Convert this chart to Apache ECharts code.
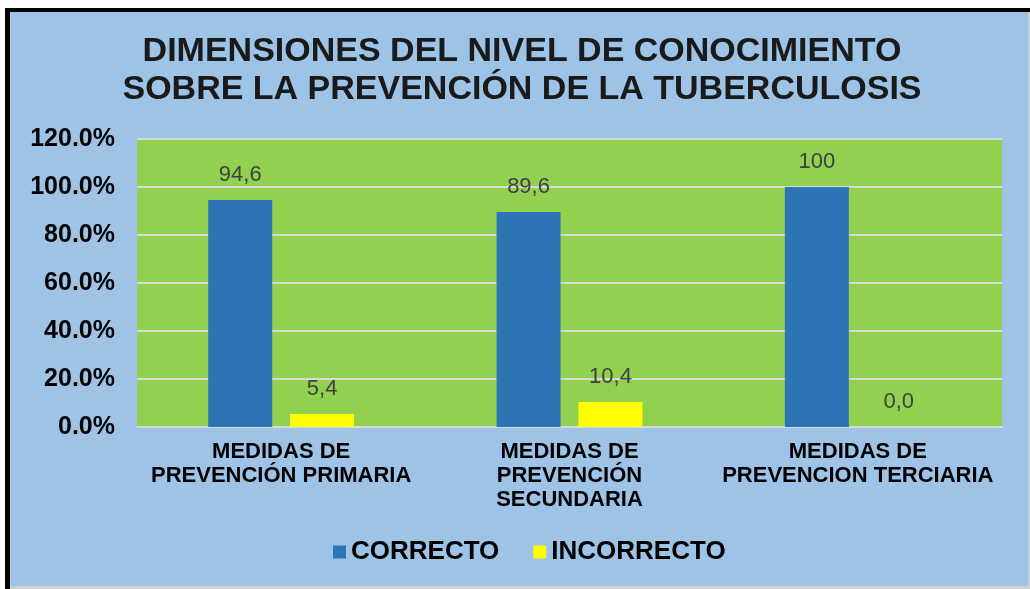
<!DOCTYPE html>
<html>
<head>
<meta charset="utf-8" />
<title>Dimensiones del nivel de conocimiento</title>
<script src="https://cdn.jsdelivr.net/npm/echarts@6/dist/echarts.min.js"></script>
<style>
  html,
  body {
    margin: 0;
    padding: 0;
    background: #ffffff;
  }

  #chart {
    width: 1030px;
    height: 589px;
  }
</style>
</head>
<body>
<div id="chart"></div>
<script>
const categories = [
  "MEDIDAS DE\nPREVENCIÓN PRIMARIA",
  "MEDIDAS DE\nPREVENCIÓN\nSECUNDARIA",
  "MEDIDAS DE\nPREVENCION TERCIARIA",
];

const seriesNames = [
  "CORRECTO",
  "INCORRECTO",
];

const correcto = [94.6, 89.6, 100];
const incorrecto = [5.4, 10.4, 0];

const correctoLabels = ["94,6", "89,6", "100"];
const incorrectoLabels = ["5,4", "10,4", "0,0"];

const yMin = 0;
const yMax = 120;
const yStep = 20;


function barSeries(
  name,
  values,
  labels,
  color,
) {
  return {
    name,
    type: "bar",
    barWidth: 64,
    barGap: "28%",
    data: values,
    itemStyle: {
      color,
    },
    label: {
      show: true,
      position: "top",
      distance: 14,
      color: "#404040",
      fontFamily: "Liberation Sans",
      fontSize: 22,
      formatter: (params) => labels[params.dataIndex],
    },
  };
}


function frameGraphics() {
  // white margin, black frame on top/left, thin grey edges
  return [
    { type: "rect", shape: { x: 0, y: 0, width: 1030, height: 8 }, style: { fill: "#ffffff" } },
    { type: "rect", shape: { x: 0, y: 0, width: 5, height: 589 }, style: { fill: "#ffffff" } },
    { type: "rect", shape: { x: 5, y: 8, width: 1025, height: 4 }, style: { fill: "#000000" } },
    { type: "rect", shape: { x: 5, y: 8, width: 5, height: 581 }, style: { fill: "#000000" } },
    { type: "rect", shape: { x: 10, y: 12, width: 1, height: 577 }, style: { fill: "#c8c8c8" } },
    { type: "rect", shape: { x: 10, y: 586, width: 1020, height: 3 }, style: { fill: "#d0d0d0" } },
    { type: "rect", shape: { x: 1028, y: 12, width: 2, height: 577 }, style: { fill: "#d0d0d0" } },
  ];
}


const chart = echarts.init(
  document.getElementById("chart"),
  null,
  { renderer: "canvas" },
);

chart.setOption({
  animation: false,
  backgroundColor: "#9DC3E6",
  textStyle: {
    fontFamily: "Liberation Sans",
  },
  title: {
    text: "DIMENSIONES DEL NIVEL DE CONOCIMIENTO\nSOBRE LA PREVENCIÓN DE LA TUBERCULOSIS",
    left: 522,
    textAlign: "center",
    top: 33,
    padding: 0,
    textStyle: {
      fontFamily: "Liberation Sans",
      fontWeight: "bold",
      fontSize: 34,
      lineHeight: 38,
      color: "#1a1a1a",
    },
  },
  legend: {
    data: seriesNames,
    top: 539,
    left: 333,
    padding: 0,
    icon: "rect",
    itemWidth: 13,
    itemHeight: 13,
    itemGap: 34,
    textStyle: {
      fontFamily: "Liberation Sans",
      fontWeight: "bold",
      fontSize: 26,
      lineHeight: 26,
      color: "#000000",
    },
  },
  grid: {
    left: 137,
    right: 28,
    top: 139,
    bottom: 162,
    show: true,
    backgroundColor: "#92D050",
    borderWidth: 0,
  },
  xAxis: {
    type: "category",
    data: categories,
    axisLine: {
      show: true,
      lineStyle: {
        color: "#D9D9D9",
        width: 2,
      },
    },
    axisTick: {
      show: false,
    },
    axisLabel: {
      margin: 13,
      interval: 0,
      fontFamily: "Liberation Sans",
      fontWeight: "bold",
      fontSize: 22,
      lineHeight: 24,
      color: "#000000",
    },
  },
  yAxis: {
    type: "value",
    min: yMin,
    max: yMax,
    interval: yStep,
    axisLine: {
      show: false,
    },
    axisTick: {
      show: false,
    },
    splitLine: {
      lineStyle: {
        color: "#D9D9D9",
        width: 2,
      },
    },
    axisLabel: {
      margin: 22,
      fontFamily: "Liberation Sans",
      fontWeight: "bold",
      fontSize: 25,
      color: "#000000",
      formatter: (value) => `${value.toFixed(1)}%`,
    },
  },
  series: [
    barSeries(seriesNames[0], correcto, correctoLabels, "#2E75B6"),
    barSeries(seriesNames[1], incorrecto, incorrectoLabels, "#FFFF00"),
  ],
  graphic: frameGraphics(),
});
</script>
</body>
</html>
